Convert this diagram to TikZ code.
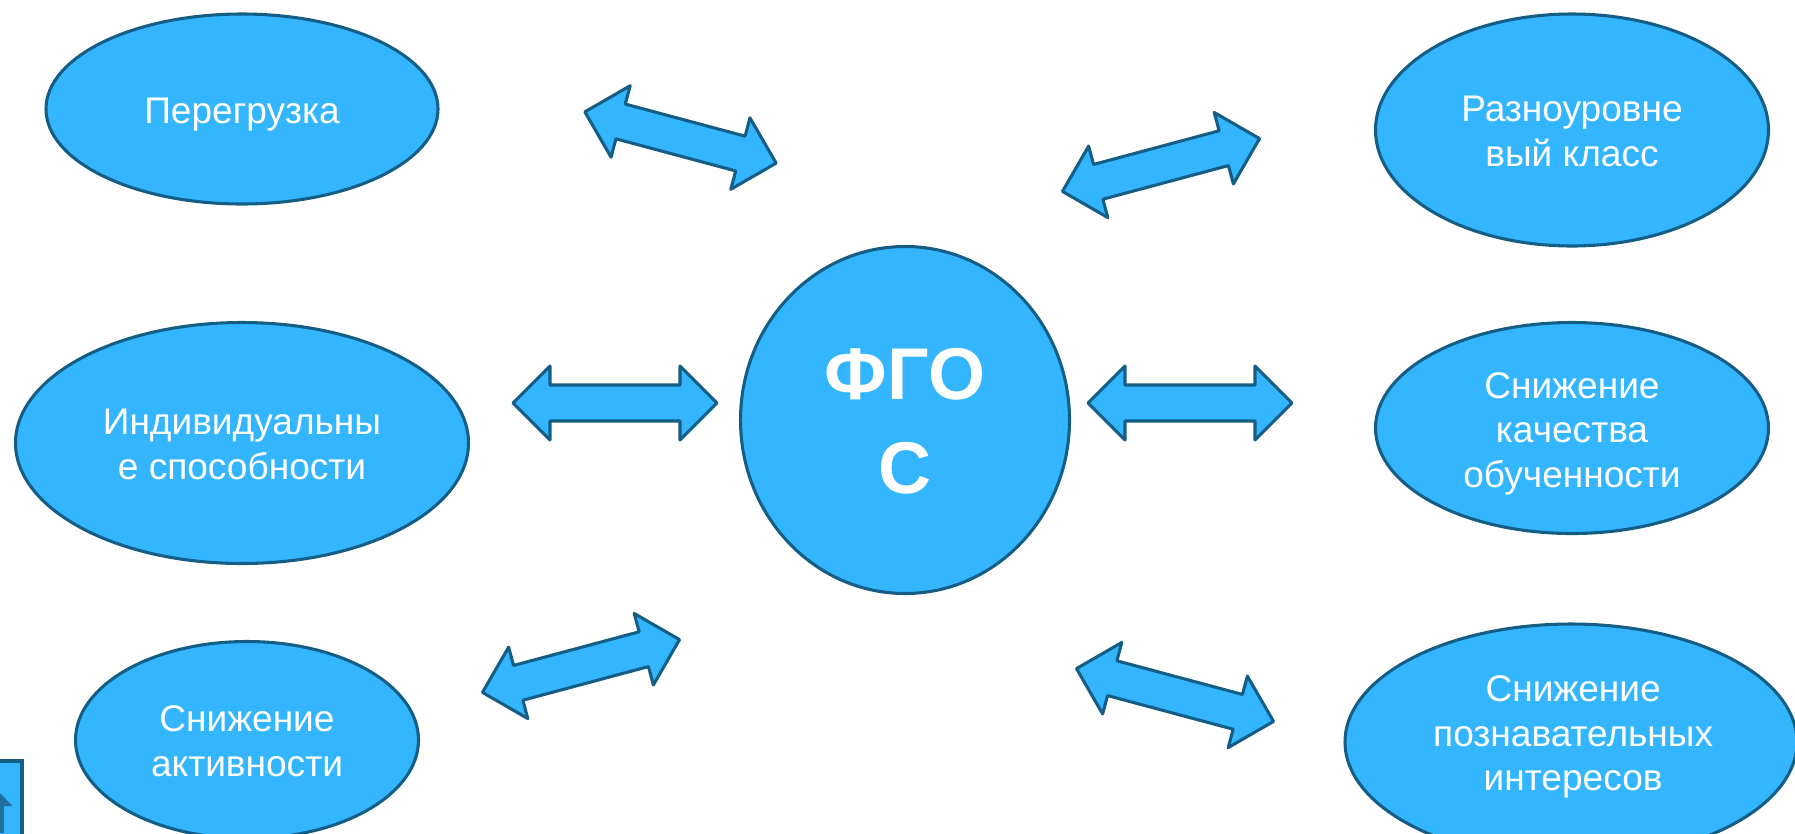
\documentclass[tikz,border=0pt]{standalone}
\usepackage{fontspec}
\setmainfont{Liberation Sans}
\usetikzlibrary{shapes.geometric}
\definecolor{fillb}{HTML}{33B5FF}
\definecolor{lineb}{HTML}{145D85}
\definecolor{iconb}{HTML}{1F6E9C}
\tikzset{
 x=0.75pt,y=-0.75pt,
 oval/.style={ellipse,draw=lineb,fill=fillb,line width=2.3pt,inner sep=0pt,text=white,align=center,font=\fontsize{27.8}{33.5}\selectfont},
 dbl/.style={draw=lineb,fill=fillb,line width=2.3pt,line join=round},
}
% text block moved by dx, dy (in pt; dy positive = down)
\newcommand{\tb}[3]{\kern#1pt\raisebox{-#2pt}[\height][\depth]{\begin{tabular}{@{}c@{}}#3\end{tabular}}\kern-#1pt}
\newcommand{\ov}[6]{\node[oval,minimum width=#3*0.75pt,minimum height=#4*0.75pt] (#5) at (#1,#2) {#6};}
\newcommand{\darrow}[4]{\begin{scope}[shift={(#1,#2)},rotate=#3]
 \path[dbl] (-#4,0) -- (-#4+37,-37) -- (-#4+37,-18) -- (#4-37,-18) -- (#4-37,-37) -- (#4,0) -- (#4-37,37) -- (#4-37,18) -- (-#4+37,18) -- (-#4+37,37) -- cycle;
 \end{scope}}
\begin{document}
\begin{tikzpicture}
\useasboundingbox (0,0) rectangle (1795,833);
\begin{scope}
\clip (0,0) rectangle (1795,833);
\path[draw=lineb,fill=fillb,line width=2.6pt] (-10,761) rectangle (22,850);
\fill[iconb] (0,793) -- (12.5,806) -- (0,806) -- cycle;
\fill[iconb] (0,806) rectangle (4,833);
\ov{242}{109}{392}{190}{a}{\tb{0}{4.3}{Перегрузка}}
\ov{242}{443}{453}{241}{b}{\tb{0}{3.8}{Индивидуальны\\е способности}}
\ov{247}{740}{343}{197}{c}{\tb{0}{4}{Снижение\\активности}}
\ov{1572}{130}{393}{232}{d}{\tb{0}{4}{Разноуровне\\вый класс}}
\ov{1572}{428}{393}{211}{e}{\tb{0}{4.3}{Снижение\\качества\\обученности}}
\ov{1571}{742}{452}{236}{f}{\tb{1.6}{-3.5}{Снижение\\познавательных\\интересов}}
\node[oval,minimum width=329*0.75pt,minimum height=347*0.75pt,font=\fontsize{55}{71}\selectfont\bfseries] (g) at (905,420) {\tb{0}{5.7}{ФГО\\С}};
\end{scope}
\darrow{680.5}{137.5}{-15}{99}
\darrow{1161}{165}{15}{102}
\darrow{615}{403}{0}{102}
\darrow{1190}{403}{0}{102}
\darrow{581}{666}{15}{102}
\darrow{1175}{695}{-15}{102}
\end{tikzpicture}
\end{document}
